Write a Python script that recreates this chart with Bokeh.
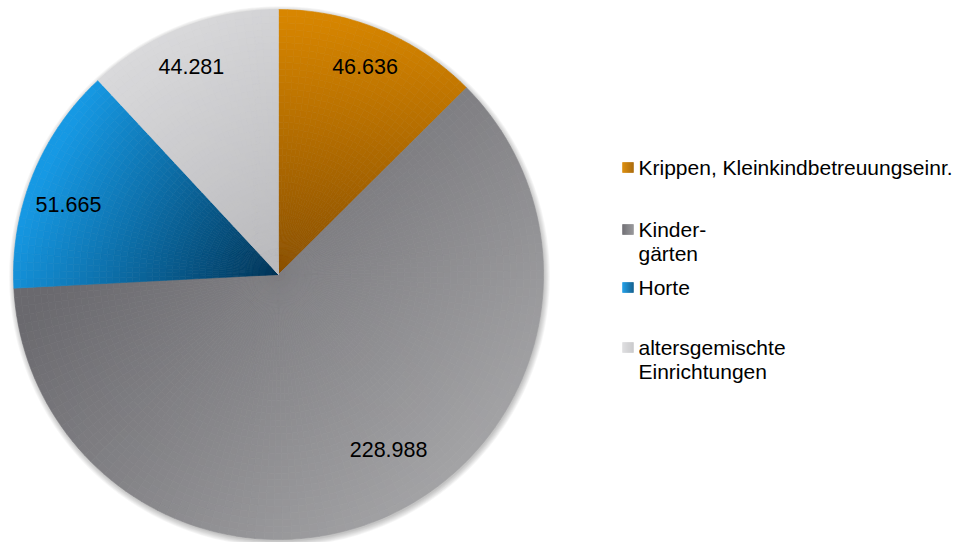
import numpy as np
from bokeh.plotting import figure
from bokeh.models import Range1d
from bokeh.core.properties import value
from bokeh.embed import file_html
from bokeh.resources import INLINE

# ---------------- data ----------------
categories = ["Krippen, Kleinkindbetreuungseinr.", "Kinder-\ngärten", "Horte",
              "altersgemischte\nEinrichtungen"]
values = [46.636, 228.988, 51.665, 44.281]
value_labels = ["46.636", "228.988", "51.665", "44.281"]

# ---------------- styling ----------------
W, H = 960, 542
OFF = 0


def fx(ix):
    return ix - OFF


def fy(iy):
    return H + OFF - iy


cx, cy = fx(278), fy(274)
R = 265

# linear gradients per slice (unit pie coords, y up): start, end, start colour, end colour
grads = [
    ((0.0, 1.0), (0.0, 0.0), "#D98700", "#8A5000"),
    ((-0.6, 0.2), (0.6, -1.0), "#6A696E", "#A8A8AA"),
    ((-0.85, 0.45), (0.0, 0.0), "#1699E4", "#003457"),
    ((-0.6, 0.9), (0.0, 0.1), "#DCDCDE", "#BBBBBE"),
]
label_r = [0.85, 0.78, 0.835, 0.85]
label_dang = [0.0, -8.3, -3.7, -1.3]  # degrees, clockwise positive
legend_rows = [167, 229, 287, 347]
LINE_H = 24
FONT = "Liberation Sans"


def hex2rgb(h):
    h = h.lstrip("#")
    return np.array([int(h[i:i + 2], 16) for i in (0, 2, 4)], dtype=float)


def mix(c0, c1, t):
    c = hex2rgb(c0) * (1 - t) + hex2rgb(c1) * t
    return "#%02x%02x%02x" % tuple(int(round(v)) for v in c)


def grad_t(px, py, s, e):
    d = np.array(e) - np.array(s)
    p = np.array([px, py]) - np.array(s)
    t = float(np.dot(p, d) / np.dot(d, d))
    return min(1.0, max(0.0, t))


p = figure(width=W, height=H, output_backend="svg", toolbar_location=None,
           x_range=Range1d(0, W), y_range=Range1d(0, H), min_border=0)
p.axis.visible = False
p.grid.visible = False
p.outline_line_color = None
p.background_fill_color = "white"
p.border_fill_color = "white"

# soft shadow
for k in range(7):
    p.circle(x=[cx + 1], y=[cy - 2], radius=R + k * 0.9, fill_color="black",
             fill_alpha=0.035, line_color=None)

total = sum(values)
fracs = [v / total for v in values]
cum = np.concatenate([[0.0], np.cumsum(fracs)])

NR = 40
rings = np.linspace(0, R, NR + 1)
xs, ys, irs, ors, sas, eas, cols = [], [], [], [], [], [], []
for i, (f0, f1) in enumerate(zip(cum[:-1], cum[1:])):
    a_start = np.pi / 2 - f1 * 2 * np.pi
    a_end = np.pi / 2 - f0 * 2 * np.pi
    n_ang = max(2, int(np.ceil((a_end - a_start) / np.radians(2))))
    angs = np.linspace(a_start, a_end, n_ang + 1)
    s, e, c0, c1 = grads[i]
    for k in range(NR):
        r0, r1 = rings[k], rings[k + 1]
        rm = (r0 + r1) / 2 / R
        for j in range(n_ang):
            am = (angs[j] + angs[j + 1]) / 2
            t = grad_t(rm * np.cos(am), rm * np.sin(am), s, e)
            xs.append(cx); ys.append(cy)
            irs.append(r0); ors.append(r1)
            sas.append(angs[j]); eas.append(angs[j + 1])
            cols.append(mix(c0, c1, t))

p.annular_wedge(x=xs, y=ys, inner_radius=irs, outer_radius=ors,
                start_angle=sas, end_angle=eas, fill_color=cols,
                line_color=cols, line_width=0.6)

# value labels
lx, ly = [], []
for i, (f0, f1) in enumerate(zip(cum[:-1], cum[1:])):
    mid_cw = (f0 + f1) / 2 * 360 + label_dang[i]
    a = np.radians(90 - mid_cw)
    lx.append(cx + label_r[i] * R * np.cos(a))
    ly.append(cy + label_r[i] * R * np.sin(a))
p.text(x=lx, y=ly, text=value_labels, text_font=value(FONT),
       text_font_size="21.5px", text_align="center", text_baseline="middle",
       text_color="#000000")

# legend
tx, ty, tt = [], [], []
for i, cat in enumerate(categories):
    row = legend_rows[i]
    s, e, c0, c1 = grads[i]
    nstrip = 11
    for q in range(nstrip):
        cq = mix(c0, c1, 0.6 * q / (nstrip - 1))
        p.quad(left=fx(622 + q), right=fx(623 + q),
               top=fy(row - 5), bottom=fy(row + 5),
               fill_color=cq, line_color=cq, line_width=0.5)
    for li, line in enumerate(cat.split("\n")):
        tx.append(fx(638)); ty.append(fy(row + li * LINE_H)); tt.append(line)
p.text(x=tx, y=ty, text=tt, text_font=value(FONT), text_font_size="21px",
       text_align="left", text_baseline="middle", text_color="#000000")

open("out.html", "w").write(file_html(p, INLINE))
